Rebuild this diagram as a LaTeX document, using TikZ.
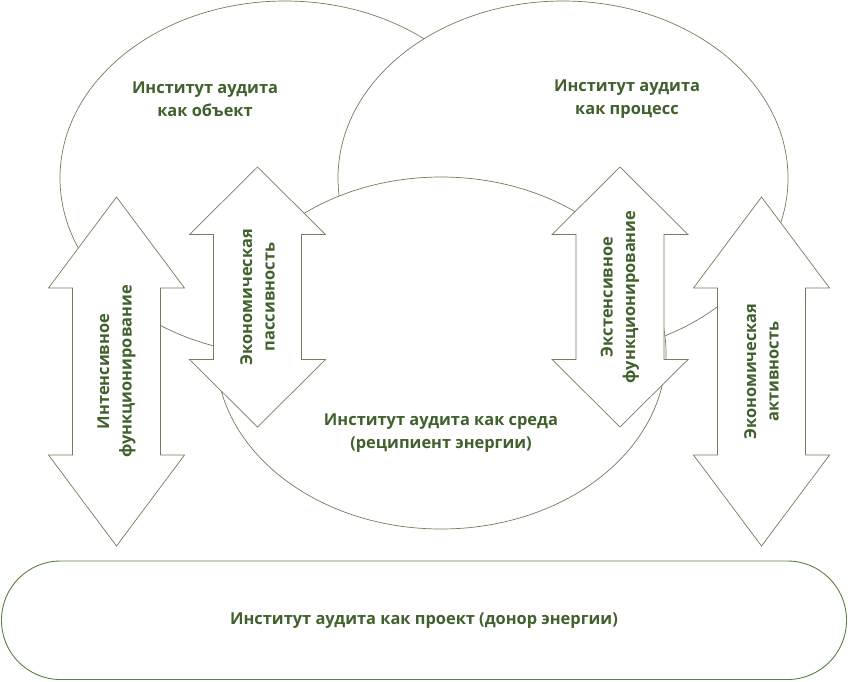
\documentclass[tikz,border=0pt]{standalone}
\usepackage{fontspec}
\setmainfont{Open Sans}
\definecolor{txtgreen}{HTML}{40602C}
\definecolor{linegreen}{HTML}{6E8058}
\definecolor{boxgreen}{HTML}{5A8040}
\tikzset{
  ell/.style={draw=linegreen, line width=0.7pt, fill=white},
  arr/.style={draw=linegreen, line width=0.7pt, fill=white, line join=miter},
  lbl/.style={text=txtgreen, font=\bfseries\fontsize{16.4}{22.5}\selectfont, align=center, inner sep=0pt},
  rlbl/.style={lbl, rotate=90},
  stad/.style={draw=boxgreen, line width=0.9pt, fill=white, rounded corners=59pt}
}
\newcommand{\dbarrow}[4]{%
  \draw[arr] (#1,#2) -- ({#1+68},{#2+#4}) -- ({#1+44},{#2+#4}) -- ({#1+44},{#3-#4})
    -- ({#1+68},{#3-#4}) -- (#1,#3) -- ({#1-68},{#3-#4}) -- ({#1-44},{#3-#4})
    -- ({#1-44},{#2+#4}) -- ({#1-68},{#2+#4}) -- cycle;}
\begin{document}
\begin{tikzpicture}[x=1pt, y=-1pt]
\useasboundingbox (0,0) rectangle (848,681);
% ellipses
\draw[ell] (285,178) ellipse [x radius=225pt, y radius=177pt];
\draw[ell] (563,178) ellipse [x radius=225pt, y radius=177pt];
\draw[ell] (441,353) ellipse [x radius=225pt, y radius=176pt];
% arrows
\dbarrow{116.5}{197}{546}{91}
\dbarrow{257.5}{167}{427}{67.5}
\dbarrow{620}{167}{427}{67.5}
\dbarrow{761.5}{197}{546}{91}
% bottom box
\draw[stad] (1.5,561) rectangle (846.5,679.5);
% labels
\node[lbl] (obj) at (205,99) {Институт аудита\\как объект};
\node[lbl] (proc) at (627,99) {Институт аудита\\как процесс};
\node[lbl] (sreda) at (441,433) {Институт аудита как среда\\(реципиент энергии)};
\node[lbl] (proj) at (424,621) {Институт аудита как проект (донор энергии)};
\node[rlbl] (intens) at (116.5,371.5) {Интенсивное\\функционирование};
\node[rlbl] (passiv) at (257.5,297) {Экономическая\\пассивность};
\node[rlbl] (extens) at (620,297) {Экстенсивное\\функционирование};
\node[rlbl] (activ) at (761.5,371.5) {Экономическая\\активность};
\end{tikzpicture}
\end{document}
